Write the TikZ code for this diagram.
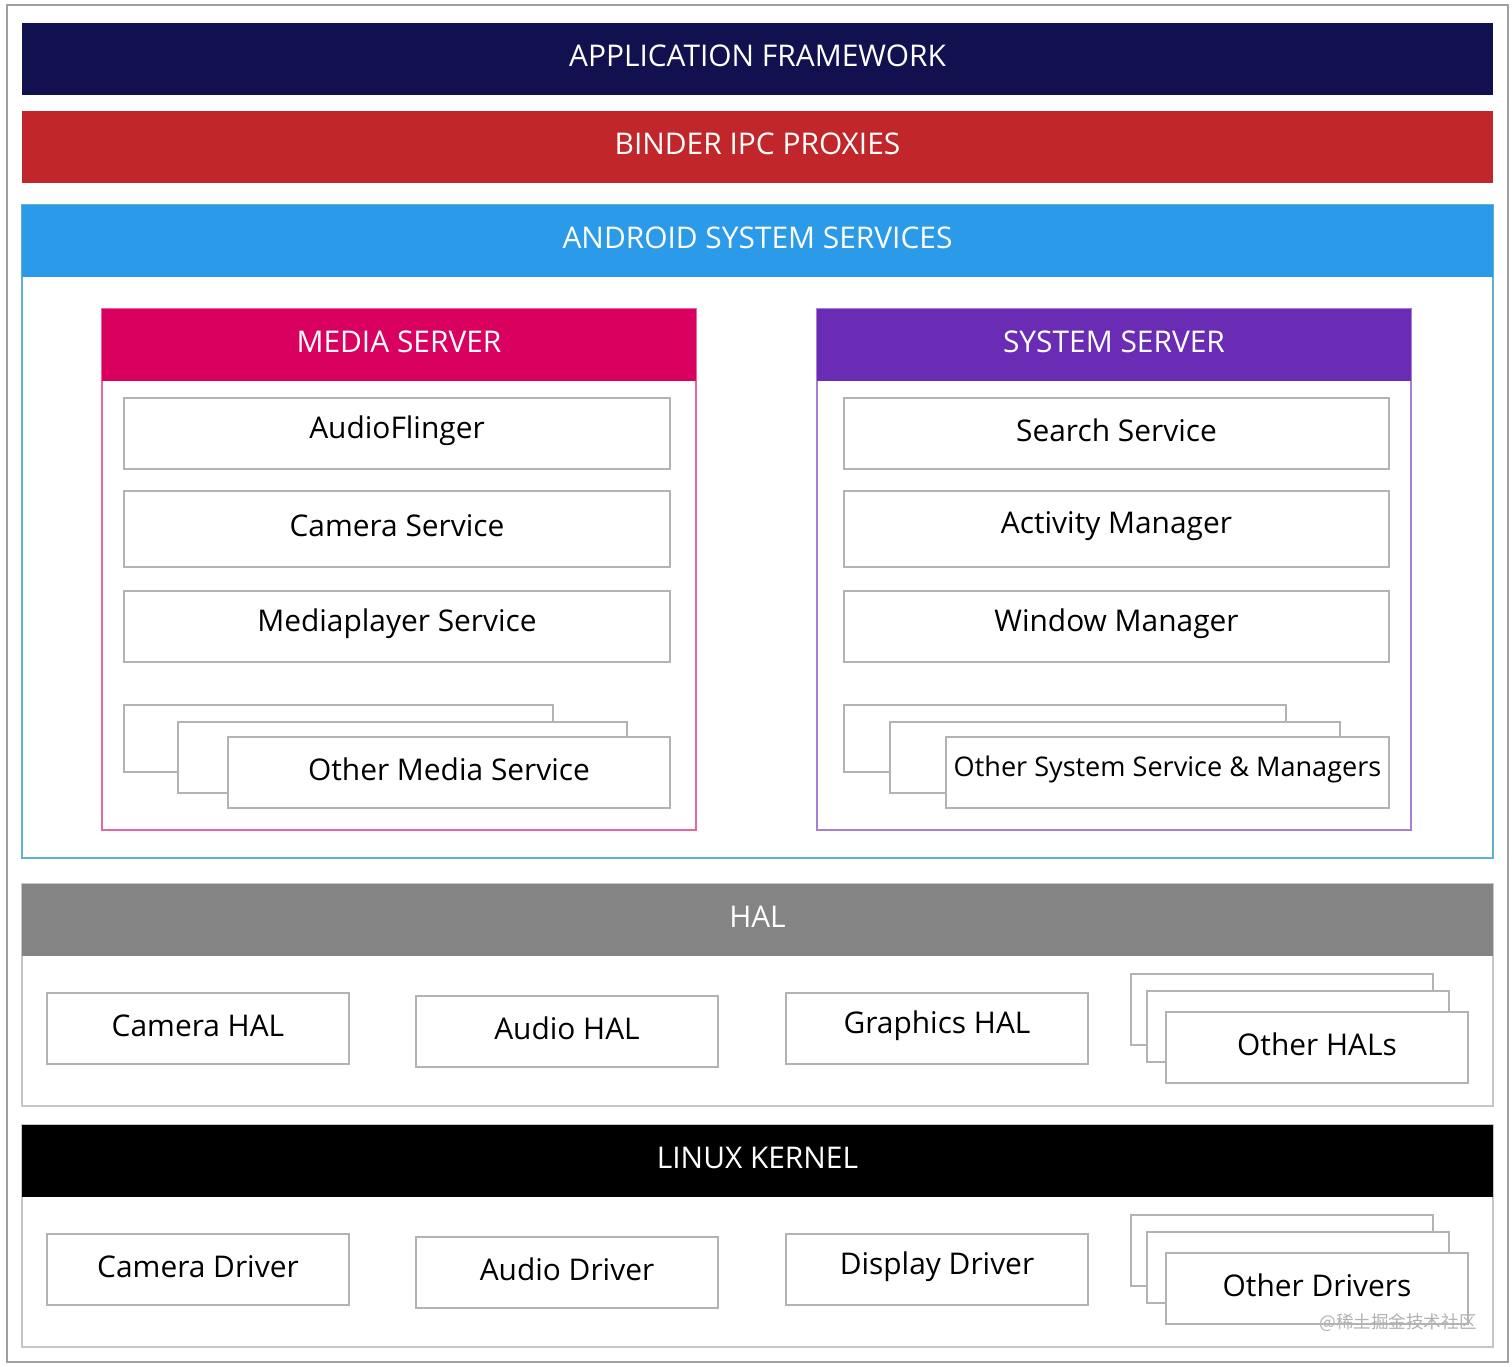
\documentclass[tikz,border=0pt]{standalone}
\usepackage{fontspec}
\setmainfont{Open Sans}
\newfontfamily\cjk{Noto Sans CJK SC}
\usetikzlibrary{fit}
\definecolor{appblue}{HTML}{12114F}
\definecolor{binderred}{HTML}{C0262A}
\definecolor{servblue}{HTML}{2B9AE8}
\definecolor{mediapink}{HTML}{D9005F}
\definecolor{syspurple}{HTML}{6A2BB5}
\definecolor{halgray}{HTML}{848484}
\definecolor{linegray}{HTML}{A0A0A0}
\tikzset{
  bar/.style={fill=#1, draw=none, inner sep=0pt, font=\fontsize{8}{10}\selectfont, text=white},
  frame/.style={draw=#1, line width=0.5pt, inner sep=0pt},
  item/.style={draw=linegray!80, fill=white, line width=0.4pt, inner sep=0pt, font=\fontsize{8.5}{10}\selectfont}
}
% box from two pixel corners
\newcommand{\bx}[5][item]{\node (#2) [#1, fit={(#3)(#4)}, label={[font=\fontsize{8.5}{10}\selectfont, yshift=0.3mm]center:#5}] {};}
\newcommand{\hd}[5][appblue]{\node (#2) [bar=#1, fit={(#3)(#4)}, label={[text=white, font=\fontsize{8.5}{10}\selectfont, yshift=0.3mm]center:#5}] {};}
\begin{document}
\begin{tikzpicture}[x=0.01cm, y=-0.01cm]
\useasboundingbox (0,0) rectangle (1512,1367);
\draw[linegray, line width=0.5pt] (7,5) rectangle (1508,1362);

\hd[appblue]{app}{22,23}{1493,95}{APPLICATION FRAMEWORK}
\hd[binderred]{binder}{22,111}{1493,183}{BINDER IPC PROXIES}

% system services
\node (servbox) [frame=servblue!60!teal!70, fit={(22,205)(1493,858)}] {};
\hd[servblue]{serv}{22,205}{1493,277}{ANDROID SYSTEM SERVICES}

\node (mediabox) [frame=mediapink!60, fit={(102,309)(696,830)}] {};
\hd[mediapink]{media}{102,309}{696,381}{MEDIA SERVER}
\bx{audiofl}{124,398}{670,469}{AudioFlinger}
\bx{camserv}{124,491}{670,567}{Camera Service}
\bx{mpserv}{124,591}{670,662}{Mediaplayer Service}
\bx{oms1}{124,705}{553,772}{}
\bx{oms2}{178,722}{627,793}{}
\bx{oms3}{228,737}{670,808}{Other Media Service}

\node (sysbox) [frame=syspurple!60, fit={(817,309)(1411,830)}] {};
\hd[syspurple]{sys}{817,309}{1411,381}{SYSTEM SERVER}
\bx{search}{844,398}{1389,469}{Search Service}
\bx{activity}{844,491}{1389,567}{Activity Manager}
\bx{window}{844,591}{1389,662}{Window Manager}
\bx{oss1}{844,705}{1286,772}{}
\bx{oss2}{890,722}{1340,793}{}
\node (oss3) [item, fit={(946,737)(1389,808)}, label={[font=\fontsize{7.7}{9}\selectfont, yshift=0.3mm]center:Other System Service \& Managers}] {};

% hal
\node (halbox) [frame=linegray!60, fit={(22,884)(1493,1106)}] {};
\hd[halgray]{hal}{22,884}{1493,956}{HAL}
\bx{camhal}{47,993}{349,1064}{Camera HAL}
\bx{audhal}{416,996}{718,1067}{Audio HAL}
\bx{gfxhal}{786,993}{1088,1064}{Graphics HAL}
\bx{ohal1}{1131,974}{1433,1045}{}
\bx{ohal2}{1147,991}{1449,1062}{}
\bx{ohal3}{1166,1012}{1468,1083}{Other HALs}

% kernel
\node (kernbox) [frame=linegray!60, fit={(22,1125)(1493,1347)}] {};
\hd[black]{kern}{22,1125}{1493,1197}{LINUX KERNEL}
\bx{camdrv}{47,1234}{349,1305}{Camera Driver}
\bx{auddrv}{416,1237}{718,1308}{Audio Driver}
\bx{dispdrv}{786,1234}{1088,1305}{Display Driver}
\bx{odrv1}{1131,1215}{1433,1286}{}
\bx{odrv2}{1147,1232}{1449,1303}{}
\bx{odrv3}{1166,1253}{1468,1324}{Other Drivers}

\node (mark) at (1398,1323) [text=gray!60, font=\cjk\fontsize{5}{6}\selectfont] {@稀土掘金技术社区};
\end{tikzpicture}
\end{document}
